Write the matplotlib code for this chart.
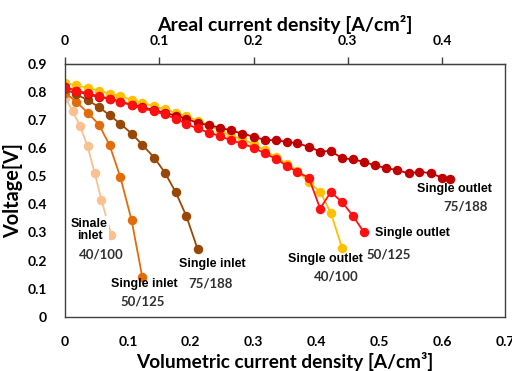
import matplotlib
matplotlib.use("Agg")
import matplotlib.pyplot as plt
from matplotlib.ticker import FuncFormatter

# Volumetric current density steps [A/cm3] shared by most curves.
vol_steps = [0.0, 0.018, 0.036, 0.054, 0.071, 0.088, 0.106, 0.123, 0.142,
             0.159, 0.176, 0.193, 0.211, 0.229, 0.247, 0.264, 0.282, 0.300,
             0.318, 0.335, 0.353, 0.370, 0.388, 0.406, 0.423, 0.441, 0.458,
             0.476, 0.493, 0.511, 0.529, 0.547, 0.564, 0.582, 0.600, 0.612]

# Single inlet curves.
inlet_40_x = [0.0, 0.012, 0.024, 0.036, 0.047, 0.058, 0.0735]
inlet_40_v = [0.780, 0.732, 0.678, 0.606, 0.513, 0.415, 0.292]
inlet_50_v = [0.797, 0.765, 0.726, 0.684, 0.610, 0.497, 0.343, 0.141]
inlet_75_v = [0.811, 0.791, 0.771, 0.746, 0.717, 0.687, 0.652, 0.612,
              0.566, 0.513, 0.444, 0.359, 0.241]

# Single outlet curves.
outlet_40_v = [0.832, 0.823, 0.815, 0.805, 0.794, 0.785, 0.772, 0.762,
               0.749, 0.738, 0.726, 0.714, 0.698, 0.681, 0.662, 0.645,
               0.631, 0.616, 0.592, 0.568, 0.545, 0.520, 0.478, 0.445,
               0.370, 0.245]
outlet_50_v = [0.815, 0.805, 0.795, 0.785, 0.776, 0.765, 0.753, 0.742,
               0.731, 0.720, 0.705, 0.686, 0.670, 0.655, 0.643, 0.628,
               0.616, 0.602, 0.581, 0.563, 0.537, 0.515, 0.495, 0.385,
               0.444, 0.408, 0.360, 0.300]
outlet_75_v = [0.818, 0.803, 0.791, 0.782, 0.776, 0.765, 0.755, 0.746,
               0.735, 0.726, 0.716, 0.705, 0.690, 0.681, 0.673, 0.663,
               0.652, 0.641, 0.629, 0.628, 0.623, 0.617, 0.605, 0.588,
               0.590, 0.564, 0.560, 0.551, 0.539, 0.529, 0.522, 0.510,
               0.516, 0.511, 0.495, 0.489]

# Areal = volumetric / 1.5 (top axis).
AREA_RATIO = 1.5

label_font = "Lato"
note_font = "Liberation Sans"

fig = plt.figure(figsize=(5.12, 3.71), dpi=100)
ax = fig.add_axes([0.127, 0.146, 0.859, 0.682])

style = dict(marker="o", markersize=5.8, linewidth=1.3)
ax.plot(inlet_40_x, inlet_40_v, color="#FAC090", **style)
ax.plot(vol_steps[:len(inlet_50_v)], inlet_50_v, color="#E36C0A", **style)
ax.plot(vol_steps[:len(inlet_75_v)], inlet_75_v, color="#974806", **style)
ax.plot(vol_steps[:len(outlet_40_v)], outlet_40_v, color="#FFC000", **style)
ax.plot(vol_steps[:len(outlet_75_v)], outlet_75_v, color="#C00000", **style)
ax.plot(vol_steps[:len(outlet_50_v)], outlet_50_v, color="#FF1010", **style)

ax.set_xlim(0, 0.7)
ax.set_ylim(0, 0.9)
ax.set_xticks([0, 0.1, 0.2, 0.3, 0.4, 0.5, 0.6, 0.7])
ax.set_yticks([0, 0.1, 0.2, 0.3, 0.4, 0.5, 0.6, 0.7, 0.8, 0.9])
fmt = FuncFormatter(lambda v, p: "%g" % round(v, 2))
ax.xaxis.set_major_formatter(fmt)
ax.yaxis.set_major_formatter(fmt)
ax.tick_params(axis="x", length=0, pad=14)
ax.tick_params(axis="y", length=0, pad=13)
for lab in ax.get_xticklabels() + ax.get_yticklabels():
    lab.set_fontfamily(label_font)
    lab.set_fontweight("bold")
    lab.set_fontsize(10)
for sp in ax.spines.values():
    sp.set_color("#404040")
    sp.set_linewidth(1.0)

ax.set_xlabel("Volumetric current density [A/cm³]", fontfamily=label_font,
              fontweight="bold", fontsize=13.7, labelpad=3)
ax.set_ylabel("Voltage[V]", fontfamily=label_font, fontweight="bold",
              fontsize=14.3, labelpad=3)

top = ax.secondary_xaxis("top", functions=(lambda v: v / AREA_RATIO,
                                           lambda a: a * AREA_RATIO))
top.set_xticks([0, 0.1, 0.2, 0.3, 0.4])
top.xaxis.set_major_formatter(fmt)
top.tick_params(direction="out", length=5, width=1, color="#404040", pad=7)
for lab in top.get_xticklabels():
    lab.set_fontfamily(label_font)
    lab.set_fontweight("bold")
    lab.set_fontsize(10)
top.set_xlabel("Areal current density [A/cm²]", fontfamily=label_font,
               fontweight="bold", fontsize=14, labelpad=3)

# Curve annotations.
name_kw = dict(fontfamily=note_font, fontweight="bold", fontsize=9,
               ha="center", va="center", color="black")
num_kw = dict(fontfamily=label_font, fontweight="bold", fontsize=9.5,
              ha="center", va="center", color="#303030")
ax.text(0.039, 0.31, "Sinale\ninlet", linespacing=1.0,
        bbox=dict(facecolor="white", edgecolor="none", pad=1), **name_kw)
ax.text(0.057, 0.22, "40/100", **num_kw)
ax.text(0.126, 0.117, "Single inlet", **name_kw)
ax.text(0.124, 0.053, "50/125", **num_kw)
ax.text(0.235, 0.188, "Single inlet", **name_kw)
ax.text(0.232, 0.117, "75/188", **num_kw)
ax.text(0.414, 0.206, "Single outlet", **name_kw)
ax.text(0.432, 0.145, "40/100", **num_kw)
ax.text(0.553, 0.298, "Single outlet", **name_kw)
ax.text(0.515, 0.223, "50/125", **num_kw)
ax.text(0.619, 0.454, "Single outlet", **name_kw)
ax.text(0.638, 0.394, "75/188", **num_kw)

fig.savefig("out.png", dpi=100)
